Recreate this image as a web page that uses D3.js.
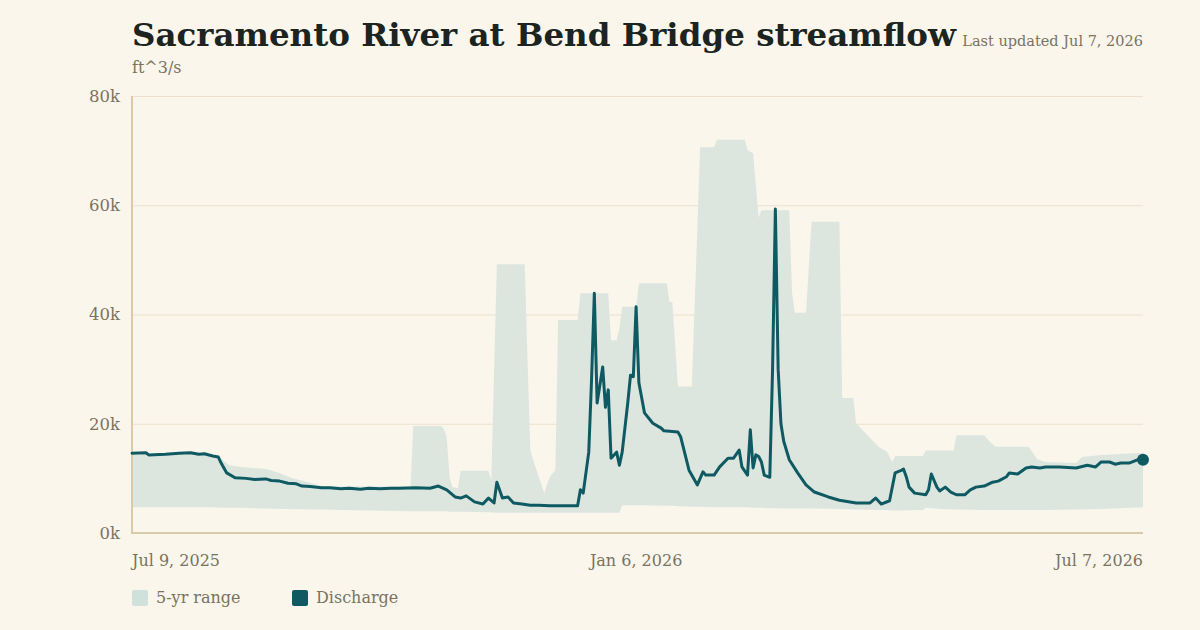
<!DOCTYPE html>
<html>
<head>
<meta charset="utf-8">
<script src="https://cdn.jsdelivr.net/npm/d3@7"></script>
<style>
  html, body { margin: 0; padding: 0; background: #faf6ec; }
  svg { display: block; font-family: "DejaVu Serif", Georgia, serif; }
</style>
</head>
<body>
<svg width="1200" height="630"></svg>
<script>
// daily discharge, ft^3/s
const flowDates = [
  "2025-07-09","2025-07-14","2025-07-15","2025-07-21","2025-07-26","2025-07-30",
  "2025-08-02","2025-08-04","2025-08-07","2025-08-09","2025-08-10","2025-08-12","2025-08-15","2025-08-19","2025-08-22","2025-08-26","2025-08-28","2025-08-31",
  "2025-09-03","2025-09-06","2025-09-08","2025-09-11","2025-09-15","2025-09-18","2025-09-22","2025-09-25","2025-09-29",
  "2025-10-02","2025-10-06","2025-10-10","2025-10-13","2025-10-19","2025-10-24","2025-10-27","2025-10-30",
  "2025-11-02","2025-11-04","2025-11-06","2025-11-09","2025-11-12","2025-11-14","2025-11-16","2025-11-17","2025-11-19","2025-11-21","2025-11-23","2025-11-26","2025-11-29",
  "2025-12-02","2025-12-06","2025-12-11","2025-12-16","2025-12-17","2025-12-18","2025-12-20","2025-12-21","2025-12-22","2025-12-23","2025-12-25","2025-12-26","2025-12-27","2025-12-28","2025-12-30","2025-12-31",
  "2026-01-01","2026-01-03","2026-01-04","2026-01-05","2026-01-06","2026-01-07","2026-01-09","2026-01-12","2026-01-15","2026-01-16","2026-01-21","2026-01-22","2026-01-25","2026-01-28","2026-01-30","2026-01-31",
  "2026-02-03","2026-02-05","2026-02-08","2026-02-10","2026-02-12","2026-02-13","2026-02-15","2026-02-16","2026-02-17","2026-02-18","2026-02-19","2026-02-20","2026-02-21","2026-02-23","2026-02-24","2026-02-25","2026-02-26","2026-02-27","2026-02-28",
  "2026-03-02","2026-03-05","2026-03-08","2026-03-11","2026-03-16","2026-03-20","2026-03-26","2026-03-31",
  "2026-04-02","2026-04-04","2026-04-07","2026-04-09","2026-04-11","2026-04-12","2026-04-13","2026-04-14","2026-04-16","2026-04-20","2026-04-21","2026-04-22","2026-04-24","2026-04-25","2026-04-27","2026-04-29",
  "2026-05-01","2026-05-04","2026-05-06","2026-05-08","2026-05-11","2026-05-14","2026-05-16","2026-05-19","2026-05-20","2026-05-23","2026-05-26","2026-05-28","2026-05-31",
  "2026-06-02","2026-06-07","2026-06-13","2026-06-17","2026-06-20","2026-06-22","2026-06-25","2026-06-27","2026-06-29",
  "2026-07-02","2026-07-05","2026-07-07"
];
const flowValues = [
  14600,14700,14300,14400,14600,14700,
  14400,14500,14100,13900,12800,11000,10100,10000,9800,9900,9600,9500,
  9100,9000,8600,8500,8300,8300,8100,8200,8000,
  8200,8100,8200,8200,8300,8200,8600,7900,
  6600,6400,6800,5700,5300,6400,5500,9300,6400,6600,5500,5300,5100,
  5100,5000,5000,5000,7900,7300,14800,28000,43900,23800,30400,23000,26200,13700,14800,12400,
  14800,23800,28900,28600,41400,27500,22000,20100,19200,18700,18500,17600,11500,8800,11200,10600,
  10600,12100,13700,13700,15200,12100,10600,18900,11900,14300,14000,13000,10600,10200,30000,59300,30000,20000,16800,
  13400,11000,8800,7500,6600,6000,5500,5500,
  6400,5300,5900,11000,11400,11700,10300,8400,7300,7000,7900,10800,8400,7700,8400,7500,
  7000,7000,7900,8400,8600,9300,9500,10300,11000,10800,11900,12100,11900,
  12100,12100,11900,12400,12100,13000,13000,12600,12800,
  12800,13400,13400
];

// 5-year range
const bandDates = [
  "2025-07-09","2025-08-05","2025-08-07","2025-08-10","2025-08-13","2025-08-17","2025-08-26","2025-08-31","2025-09-04","2025-09-11","2025-09-15","2025-09-22",
  "2025-10-17","2025-10-18","2025-10-28","2025-10-29","2025-10-30","2025-10-31","2025-11-01","2025-11-03","2025-11-04",
  "2025-11-14","2025-11-15","2025-11-17","2025-11-27","2025-11-29","2025-11-30","2025-12-04","2025-12-06","2025-12-08",
  "2025-12-09","2025-12-16","2025-12-17","2025-12-27","2025-12-28","2025-12-30","2025-12-31",
  "2026-01-01","2026-01-06","2026-01-07","2026-01-17","2026-01-18","2026-01-19","2026-01-21","2026-01-26",
  "2026-01-29","2026-02-03","2026-02-04","2026-02-14","2026-02-15","2026-02-17","2026-02-19","2026-02-20",
  "2026-03-02","2026-03-03","2026-03-04","2026-03-08","2026-03-10","2026-03-20","2026-03-21","2026-03-25","2026-03-26",
  "2026-04-03","2026-04-06","2026-04-08","2026-04-09","2026-04-19","2026-04-20","2026-04-25","2026-04-30",
  "2026-05-01","2026-05-11","2026-05-13","2026-05-15","2026-05-27","2026-05-30","2026-06-02","2026-06-13","2026-06-15","2026-06-22","2026-07-07"
];
const bandHigh = [
  14300,14400,14000,13600,12400,12100,11700,11000,10100,9200,8600,8500,
  8500,19600,19600,19000,17600,10300,8400,8200,11400,
  11400,9700,49200,49200,15200,13400,7300,10300,11500,
  39000,39000,43900,43900,35300,35300,37500,
  41400,41400,45700,45700,42300,42300,26800,26800,
  70600,70600,72000,72000,70100,69500,57700,59100,
  59100,43900,40300,40300,57000,57000,24700,24700,20100,
  15800,14900,13000,14100,14100,15100,15100,15100,
  17900,17900,16700,15800,15800,13500,13000,12800,13900,14300,14700
];
const bandLow = [
  4700,4700,4700,4600,4600,4600,4500,4400,4400,4300,4300,4200,
  4000,4000,4000,4000,4000,3900,3900,3900,3900,
  3800,3800,3700,3700,3700,3700,3700,3700,3700,
  3700,3700,3700,3700,3700,3700,3700,
  5100,5100,5100,5000,5000,5000,4900,4800,
  4800,4700,4700,4700,4700,4600,4600,4600,
  4500,4500,4500,4500,4500,4400,4400,4300,4300,
  4200,4200,4100,4100,4200,4600,4400,4300,
  4300,4200,4200,4200,4200,4200,4200,4300,4300,4400,4700
];

const yTicks = [0, 20000, 40000, 60000, 80000];
const xTicks = ["2025-07-09", "2026-01-06", "2026-07-07"];
const legendItems = ["5-yr range", "Discharge"];

const ink = "#1b2420", muted = "#7a735f", teal = "#0f5a62", band = "#dce6df";

const svg = d3.select("svg"),
  width = +svg.attr("width"),
  height = +svg.attr("height");

const margin = {top: 96, right: 57, bottom: 97, left: 132};
const parse = d3.utcParse("%Y-%m-%d");
const fmt = d3.utcFormat("%b %-d, %Y");

const flow = flowDates.map((d, i) => ({date: parse(d), value: flowValues[i]}));
const range = bandDates.map((d, i) => ({date: parse(d), lo: bandLow[i], hi: bandHigh[i]}));

const x = d3.scaleUtc()
  .domain([parse(xTicks[0]), parse(xTicks[2])])
  .range([margin.left, width - margin.right]);

const y = d3.scaleLinear()
  .domain([0, 80000])
  .range([height - margin.bottom, margin.top]);

// title block
svg.append("text")
  .attr("x", margin.left).attr("y", 46)
  .attr("fill", ink)
  .attr("font-size", 32.5)
  .attr("font-weight", "bold")
  .text("Sacramento River at Bend Bridge streamflow");

svg.append("text")
  .attr("x", margin.left).attr("y", 73)
  .attr("fill", muted)
  .attr("font-size", 16)
  .text("ft^3/s");

svg.append("text")
  .attr("x", width - margin.right).attr("y", 46)
  .attr("text-anchor", "end")
  .attr("fill", muted)
  .attr("font-size", 14.5)
  .text("Last updated Jul 7, 2026");

// grid + y labels
svg.append("g")
  .attr("transform", `translate(${margin.left},0)`)
  .call(d3.axisLeft(y)
    .tickValues(yTicks)
    .tickSize(-(width - margin.left - margin.right))
    .tickPadding(12)
    .tickFormat(d => d / 1000 + "k"))
  .call(g => g.select(".domain").remove())
  .call(g => g.selectAll(".tick line").attr("stroke", "#ebe1cc"))
  .call(g => g.selectAll(".tick text")
    .attr("fill", muted)
    .attr("font-size", 16.5)
    .attr("font-family", "DejaVu Serif, Georgia, serif"));

// 5-yr range band
svg.append("path")
  .datum(range)
  .attr("fill", band)
  .attr("d", d3.area()
    .x(d => x(d.date))
    .y0(d => y(d.lo))
    .y1(d => y(d.hi)));

// axis lines
svg.append("line")
  .attr("x1", margin.left).attr("x2", margin.left)
  .attr("y1", margin.top).attr("y2", y(0))
  .attr("stroke", "#d9cba9").attr("stroke-width", 2);
svg.append("line")
  .attr("x1", margin.left - 1).attr("x2", width - margin.right)
  .attr("y1", y(0)).attr("y2", y(0))
  .attr("stroke", "#d9cba9").attr("stroke-width", 2);

// discharge
svg.append("path")
  .datum(flow)
  .attr("fill", "none")
  .attr("stroke", teal)
  .attr("stroke-width", 3)
  .attr("stroke-linejoin", "round")
  .attr("stroke-linecap", "round")
  .attr("d", d3.line()
    .x(d => x(d.date))
    .y(d => y(d.value)));

const last = flow[flow.length - 1];
svg.append("circle")
  .attr("cx", x(last.date))
  .attr("cy", y(last.value))
  .attr("r", 6)
  .attr("fill", teal);

// x labels
svg.append("g")
  .selectAll("text")
  .data(xTicks)
  .join("text")
    .attr("x", d => x(parse(d)))
    .attr("y", 566)
    .attr("text-anchor", (d, i) => ["start", "middle", "end"][i])
    .attr("fill", muted)
    .attr("font-size", 16)
    .text(d => fmt(parse(d)));

// legend
const legend = svg.append("g")
  .selectAll("g")
  .data(legendItems)
  .join("g")
    .attr("transform", (d, i) => `translate(${margin.left + i * 160},590)`);

legend.append("rect")
  .attr("width", 16).attr("height", 16)
  .attr("rx", 2)
  .attr("fill", (d, i) => i ? teal : "#d0e1dc");

legend.append("text")
  .attr("x", 24).attr("y", 13)
  .attr("fill", muted)
  .attr("font-size", 16)
  .text(d => d);
</script>
</body>
</html>
